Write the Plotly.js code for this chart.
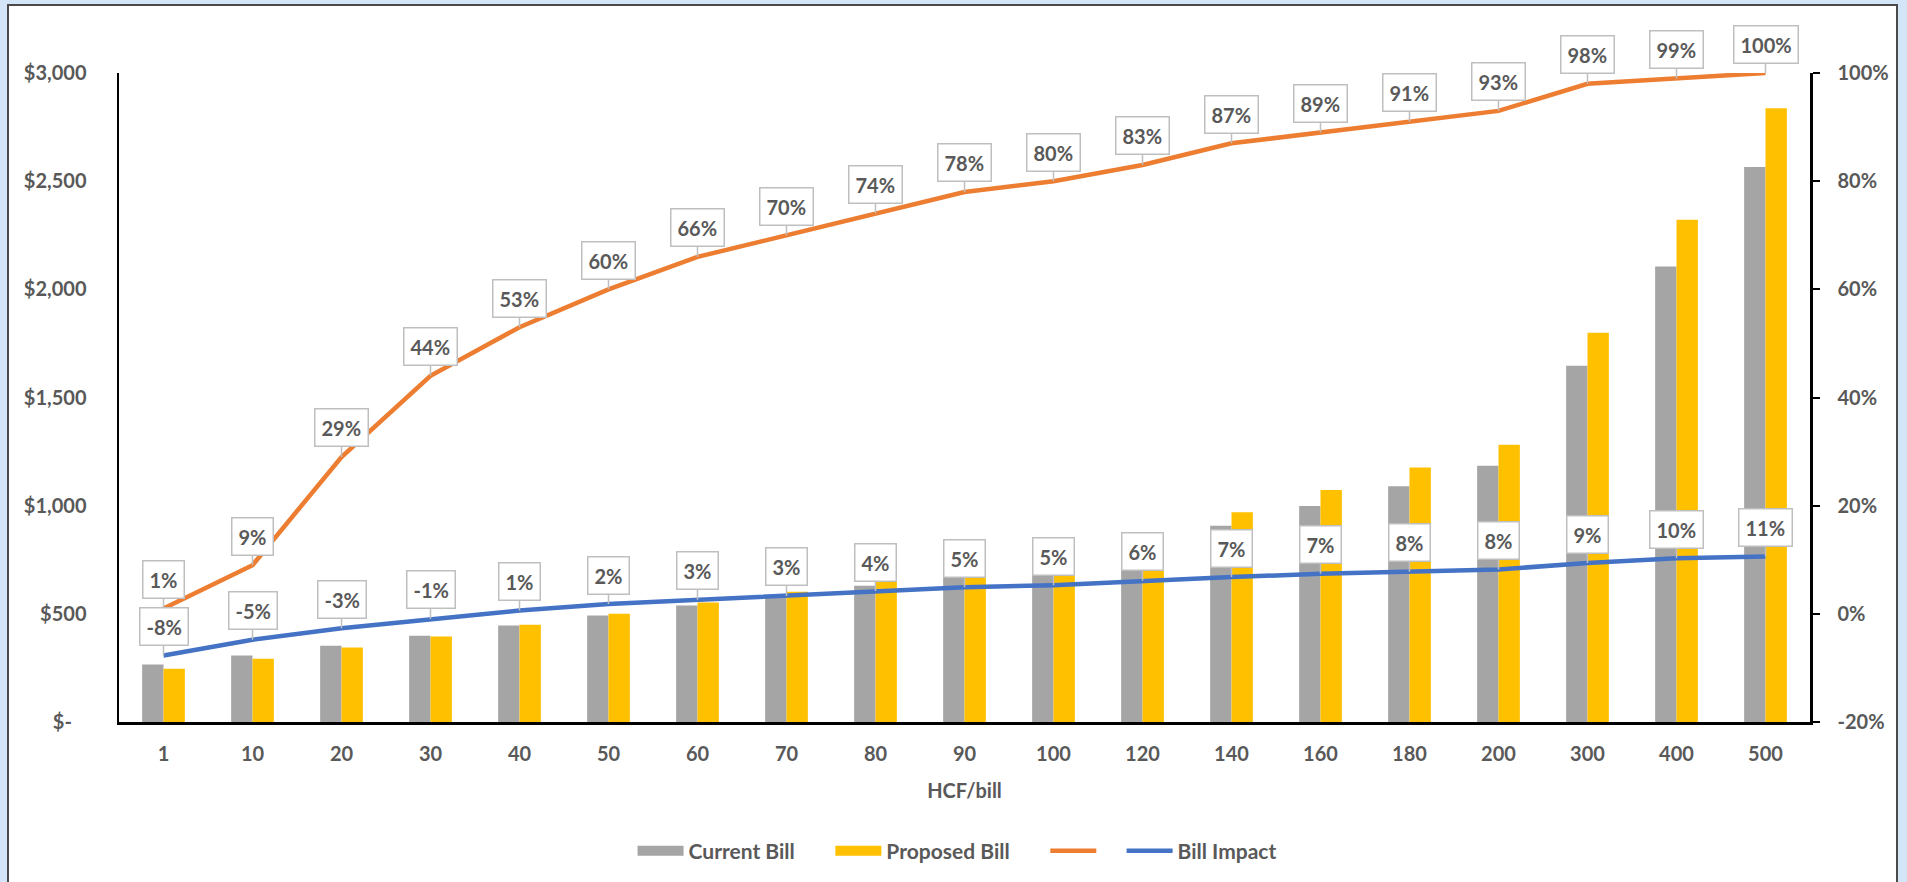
<!DOCTYPE html>
<html>
<head>
<meta charset="utf-8">
<script src="https://cdn.plot.ly/plotly-3.0.1.min.js"></script>
<style>
  html, body { margin: 0; padding: 0; width: 1907px; height: 882px; overflow: hidden; background: #d4e5f7; }
  #frame { position: absolute; left: 7px; top: 4px; width: 1891px; height: 900px; background: #ffffff; border: 2px solid #4a4a4a; box-sizing: border-box; }
  #chart { position: absolute; left: 0; top: 0; width: 1907px; height: 882px; }
</style>
</head>
<body>
<div id="frame"></div>
<div id="chart"></div>
<script>
// ---- data ----
const categories = ['1','10','20','30','40','50','60','70','80','90','100','120','140','160','180','200','300','400','500'];
const currentBill  = [266, 307, 353, 399, 446, 492, 538, 584, 630, 673, 722, 814, 907, 999, 1090, 1184, 1647, 2106, 2565];
const proposedBill = [246, 292, 344, 395, 449, 500, 552, 602, 654, 706, 760, 863, 969, 1072, 1176, 1282, 1799, 2322, 2837];
const cumulativePct = [1, 9, 29, 44, 53, 60, 66, 70, 74, 78, 80, 83, 87, 89, 91, 93, 98, 99, 100];
const billImpactPct = [-7.7, -4.8, -2.65, -0.94, 0.6, 1.8, 2.6, 3.3, 4.2, 4.9, 5.3, 6.1, 6.8, 7.4, 7.8, 8.2, 9.4, 10.3, 10.6];
const leftTickVals = [0, 500, 1000, 1500, 2000, 2500, 3000];
const leftTickText = ['$-\u00a0\u00a0\u00a0', '$500', '$1,000', '$1,500', '$2,000', '$2,500', '$3,000'];
const rightTickVals = [-20, 0, 20, 40, 60, 80, 100];
const rightTickText = ['-20%', '0%', '20%', '40%', '60%', '80%', '100%'];
const seriesNames = ['Current Bill', 'Proposed Bill', '', 'Bill Impact'];

const FONT = 'Lato, "Open Sans", "Liberation Sans", sans-serif';
const GREY_TXT = '#595959';
const baseFont = { family: FONT, size: 20, color: GREY_TXT, weight: 'bold' };
const legendFont = { family: FONT, size: 21, color: GREY_TXT, weight: 'bold' };
const COLORS = ['#A5A5A5', '#FFC000', '#ED7D31', '#4472C4'];
const GAP = '\u00a0'.repeat(6);

const traces = [
  { type: 'bar', name: seriesNames[0], x: categories, y: currentBill, showlegend: false,
    marker: { color: COLORS[0], line: { width: 0 } } },
  { type: 'bar', name: seriesNames[1], x: categories, y: proposedBill, showlegend: false,
    marker: { color: COLORS[1], line: { width: 0 } } },
  // legend swatches for the bar series (wide rectangles like the reference)
  { type: 'scatter', mode: 'lines', name: seriesNames[0] + GAP, x: [null], y: [null], legendrank: 1,
    line: { color: COLORS[0], width: 13 } },
  { type: 'scatter', mode: 'lines', name: seriesNames[1] + GAP, x: [null], y: [null], legendrank: 2,
    line: { color: COLORS[1], width: 13 } },
  { type: 'scatter', mode: 'lines', name: seriesNames[2] + '\u00a0\u00a0\u00a0', x: categories, y: cumulativePct, yaxis: 'y2', legendrank: 3,
    line: { color: COLORS[2], width: 4.5 } },
  { type: 'scatter', mode: 'lines', name: seriesNames[3], x: categories, y: billImpactPct, yaxis: 'y2', legendrank: 4,
    line: { color: COLORS[3], width: 4.5 } }
];

function callouts(values) {
  return values.map((v, i) => ({
    xref: 'x', yref: 'y2', x: i, y: v,
    text: Math.round(v) + '%',
    showarrow: true, arrowhead: 0, arrowwidth: 1.5, arrowcolor: '#bfbfbf',
    ax: 0, ay: -29, standoff: 0,
    bgcolor: '#ffffff', bordercolor: '#bfbfbf', borderwidth: 1.5, borderpad: 6,
    font: baseFont
  }));
}

const layout = {
  width: 1907, height: 882,
  margin: { l: 119, r: 97, t: 73, b: 159, pad: 0 },
  paper_bgcolor: 'rgba(0,0,0,0)',
  plot_bgcolor: 'rgba(0,0,0,0)',
  barmode: 'group', bargap: 0.52, bargroupgap: 0,
  showlegend: true,
  hovermode: false,
  font: baseFont,
  xaxis: {
    type: 'category',
    range: [-0.5, categories.length - 0.5],
    tickangle: 0,
    automargin: true,
    showline: true, linecolor: '#000000', linewidth: 2.5,
    showgrid: false, zeroline: false, ticks: '',
    ticklabelstandoff: 12,
    tickfont: baseFont,
    title: { text: 'HCF/bill', font: baseFont, standoff: 21 }
  },
  yaxis: {
    range: [0, 3000],
    tickvals: leftTickVals, ticktext: leftTickText,
    showline: true, linecolor: '#000000', linewidth: 2.5,
    showgrid: false, zeroline: false, ticks: '',
    ticklabelstandoff: 26,
    tickfont: baseFont
  },
  yaxis2: {
    overlaying: 'y', side: 'right',
    range: [-20, 100],
    tickvals: rightTickVals, ticktext: rightTickText,
    showline: true, linecolor: '#000000', linewidth: 2.5,
    showgrid: false, zeroline: false,
    ticks: 'outside', ticklen: 7, tickwidth: 2, tickcolor: '#000000',
    ticklabelstandoff: 14,
    tickfont: baseFont
  },
  legend: {
    orientation: 'h', x: 0.4956, xanchor: 'center', y: -0.197, yanchor: 'middle',
    itemwidth: 46,
    font: legendFont, bgcolor: 'rgba(0,0,0,0)', traceorder: 'normal'
  },
  annotations: callouts(cumulativePct).concat(callouts(billImpactPct))
};

Plotly.newPlot('chart', traces, layout, { staticPlot: true, displayModeBar: false });
</script>
</body>
</html>
